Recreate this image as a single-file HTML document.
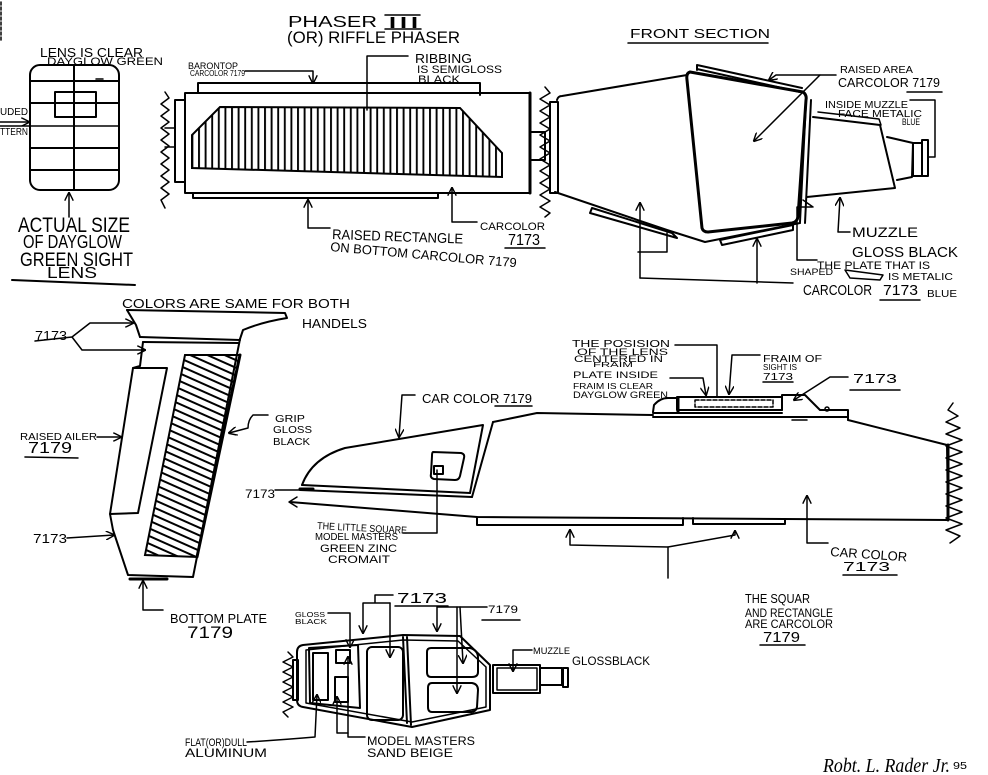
<!DOCTYPE html>
<html><head><meta charset="utf-8"><style>
html,body{margin:0;padding:0;background:#fff;}
svg{display:block;}
text{font-family:"Liberation Sans",sans-serif;fill:#000;}
.s{fill:none;stroke:#000;stroke-width:2;stroke-linejoin:round;stroke-linecap:round;}
.l{fill:none;stroke:#000;stroke-width:1.5;stroke-linejoin:round;stroke-linecap:round;}
.b{fill:none;stroke:#000;stroke-width:3;stroke-linejoin:round;stroke-linecap:round;}
</style></head><body>
<svg width="988" height="775" viewBox="0 0 988 775" xmlns="http://www.w3.org/2000/svg">
<defs>
<marker id="a" viewBox="0 0 10 10" refX="9" refY="5" markerWidth="9" markerHeight="9" markerUnits="userSpaceOnUse" orient="auto"><path d="M0,0 L10,5 L0,10" fill="none" stroke="#000" stroke-width="1.6"/></marker>
<pattern id="vh" width="6.6" height="10" patternUnits="userSpaceOnUse"><line x1="1" y1="0" x2="1" y2="10" stroke="#000" stroke-width="1.9"/></pattern>
<pattern id="dh" width="10" height="7" patternUnits="userSpaceOnUse" patternTransform="rotate(24)"><line x1="0" y1="2" x2="10" y2="2" stroke="#000" stroke-width="2"/></pattern>
</defs>
<rect width="988" height="775" fill="#fff"/>

<!-- corner mark -->
<path class="l" d="M1,2 V42" stroke-dasharray="3,2"/>

<!-- ===== LENS ===== -->
<text x="40" y="57" font-size="12.5" textLength="103" lengthAdjust="spacingAndGlyphs">LENS IS CLEAR</text>
<text x="47" y="65" font-size="11" textLength="116" lengthAdjust="spacingAndGlyphs">DAYGLOW GREEN</text>
<rect class="s" x="30" y="65" width="89" height="125" rx="10"/>
<path class="s" d="M74,65 V190 M30,81 H119 M30,103 H119 M30,148 H119 M30,170 H119"/>
<path class="l" d="M0,126 H119" stroke-width="1"/>
<path class="l" d="M0,122 H29" marker-end="url(#a)"/>
<rect class="s" x="55" y="92" width="41" height="25"/>
<path class="l" d="M96,79 H103"/>
<text x="0" y="115" font-size="10" textLength="28" lengthAdjust="spacingAndGlyphs">UDED</text>
<text x="0" y="135" font-size="10" textLength="28" lengthAdjust="spacingAndGlyphs">TTERN</text>
<path class="l" d="M69,217 V193" marker-end="url(#a)"/>
<text x="18" y="232" font-size="21" textLength="112" lengthAdjust="spacingAndGlyphs">ACTUAL SIZE</text>
<text x="23" y="248" font-size="18" textLength="99" lengthAdjust="spacingAndGlyphs">OF DAYGLOW</text>
<text x="20" y="266" font-size="19" textLength="113" lengthAdjust="spacingAndGlyphs">GREEN SIGHT</text>
<text x="47" y="278" font-size="16" textLength="50" lengthAdjust="spacingAndGlyphs">LENS</text>
<path class="s" d="M12,280 L135,285"/>

<!-- ===== PHASER TOP VIEW ===== -->
<text x="288" y="27" font-size="16" textLength="89" lengthAdjust="spacingAndGlyphs">PHASER</text>
<text x="387" y="28" font-size="16" textLength="33" lengthAdjust="spacingAndGlyphs">III</text>
<path class="l" d="M385,15 H420 M385,29 H421"/>
<text x="287" y="43" font-size="17" textLength="173" lengthAdjust="spacingAndGlyphs">(OR) RIFFLE PHASER</text>

<text x="188" y="69" font-size="9" textLength="50" lengthAdjust="spacingAndGlyphs">BARONTOP</text>
<text x="190" y="76" font-size="8" textLength="55" lengthAdjust="spacingAndGlyphs">CARCOLOR 7179</text>
<path class="l" d="M245,71 H313 V83" marker-end="url(#a)"/>
<text x="415" y="63" font-size="13" textLength="57" lengthAdjust="spacingAndGlyphs">RIBBING</text>
<text x="417" y="73" font-size="11" textLength="85" lengthAdjust="spacingAndGlyphs">IS SEMIGLOSS</text>
<text x="418" y="83" font-size="11" textLength="42" lengthAdjust="spacingAndGlyphs">BLACK</text>
<path class="l" d="M408,56 H367 V110"/>

<path class="s" d="M198,93 V83 H480 V95"/>
<rect class="s" x="185" y="93" width="345" height="100"/>
<path class="b" d="M530,93 V193"/>
<path class="s" d="M193,193 V198 H438 V193"/>
<polygon points="220,107 460,108 502,153 502,177 192,168 192,135" fill="url(#vh)" stroke="#000" stroke-width="2"/>
<rect class="s" x="175" y="100" width="10" height="82"/>
<path class="l" d="M165,128 H175 M165,147 H175"/>
<polyline class="l" points="165,92 169,98 161,104 169,110 161,116 169,122 161,128 169,134 161,140 169,146 161,152 169,158 161,164 169,170 161,176 169,182 161,188 169,194 161,200 165,208"/>
<rect class="s" x="530" y="132" width="15" height="28"/>
<polyline class="l" points="545,87 550,93 540,99 550,105 540,111 550,117 540,123 550,129 540,135 550,141 540,147 550,153 540,159 550,165 540,171 550,177 540,183 550,189 540,195 550,201 540,207 550,213 545,217"/>

<path class="l" d="M330,228 H308 V200" marker-end="url(#a)"/>
<text x="332" y="239" font-size="14" textLength="131" lengthAdjust="spacingAndGlyphs" transform="rotate(2 332 239)">RAISED RECTANGLE</text>
<text x="330" y="251" font-size="13" textLength="187" lengthAdjust="spacingAndGlyphs" transform="rotate(5 330 251)">ON BOTTOM CARCOLOR 7179</text>
<path class="l" d="M477,222 H452 V188" marker-end="url(#a)"/>
<text x="480" y="230" font-size="11" textLength="65" lengthAdjust="spacingAndGlyphs">CARCOLOR</text>
<text x="508" y="245" font-size="16" textLength="32" lengthAdjust="spacingAndGlyphs">7173</text>
<path class="l" d="M505,248 H545"/>

<!-- ===== FRONT SECTION ===== -->
<text x="630" y="38" font-size="13" textLength="140" lengthAdjust="spacingAndGlyphs">FRONT SECTION</text>
<path class="l" d="M628,43 H768"/>
<rect class="s" x="550" y="102" width="8" height="91"/>
<path class="s" d="M557,100 Q558,96 562,96 L687,75"/>
<path class="s" d="M555,192 L667,230 L705,242 L800,223"/>
<path class="b" d="M690,72 L803,92 Q807,95 806,100 L798,217 Q797,222 792,223 L708,232 Q703,232 702,228 L687,80 Q686,73 690,72 Z"/>
<path class="s" d="M811,100 L805,223 M806,102 L800,222"/>
<path class="s" d="M697,65 L802,88 M697,69 L800,92 M697,65 V70"/>
<path class="s" d="M813,117 L880,125 L895,188 L807,197"/>
<path class="l" d="M818,112 L879,119 L881,125"/>
<path class="s" d="M887,137 L913,143 L912,177 L897,180"/>
<rect class="s" x="913" y="143" width="9" height="33"/>
<rect class="s" x="922" y="140" width="6" height="36"/>
<polygon class="s" points="592,208 672,233 677,238 590,213"/>
<polygon class="s" points="720,240 793,225 793,230 722,245"/>
<path class="l" d="M820,75 L754,141" marker-end="url(#a)"/>
<path class="l" d="M836,75 H776 L769,80" marker-end="url(#a)"/>
<text x="840" y="73" font-size="10" textLength="73" lengthAdjust="spacingAndGlyphs">RAISED AREA</text>
<text x="838" y="87" font-size="13" textLength="102" lengthAdjust="spacingAndGlyphs">CARCOLOR 7179</text>
<path class="l" d="M907,92 H942"/>
<text x="825" y="108" font-size="10" textLength="83" lengthAdjust="spacingAndGlyphs">INSIDE MUZZLE</text>
<text x="838" y="117" font-size="10" textLength="84" lengthAdjust="spacingAndGlyphs">FACE METALIC</text>
<text x="902" y="125" font-size="9" textLength="18" lengthAdjust="spacingAndGlyphs">BLUE</text>
<path class="l" d="M910,100 H935 V157 H928"/>
<path class="l" d="M640,278 V203" marker-end="url(#a)"/>
<path class="l" d="M640,278 L793,283"/>
<path class="l" d="M757,283 V239" marker-end="url(#a)"/>
<path class="l" d="M638,252 H667 V233"/>
<path class="l" d="M850,232 H838 L840,198" marker-end="url(#a)"/>
<text x="852" y="237" font-size="14" textLength="66" lengthAdjust="spacingAndGlyphs">MUZZLE</text>
<text x="852" y="257" font-size="15" textLength="106" lengthAdjust="spacingAndGlyphs">GLOSS BLACK</text>
<path class="l" d="M803,200 L813,207 M812,207 H797 V260 H817"/>
<text x="817" y="269" font-size="11" textLength="113" lengthAdjust="spacingAndGlyphs">THE PLATE THAT IS</text>
<text x="790" y="275" font-size="9" textLength="43" lengthAdjust="spacingAndGlyphs">SHAPED</text>
<polygon class="l" points="845,270 883,275 880,280 850,278"/>
<text x="888" y="280" font-size="10" textLength="65" lengthAdjust="spacingAndGlyphs">IS METALIC</text>
<text x="927" y="297" font-size="10" textLength="30" lengthAdjust="spacingAndGlyphs">BLUE</text>
<text x="803" y="295" font-size="15" textLength="69" lengthAdjust="spacingAndGlyphs">CARCOLOR</text>
<text x="883" y="295" font-size="15" textLength="35" lengthAdjust="spacingAndGlyphs">7173</text>
<path class="l" d="M880,300 H920"/>

<!-- ===== HANDLE ===== -->
<text x="122" y="308" font-size="13" textLength="228" lengthAdjust="spacingAndGlyphs">COLORS ARE SAME FOR BOTH</text>
<text x="302" y="328" font-size="13" textLength="65" lengthAdjust="spacingAndGlyphs">HANDELS</text>
<path class="s" d="M127,310 L285,313 L287,318 Q262,322 243,330 L240,339"/>
<path class="s" d="M127,310 L136,325 L140,337"/>
<path class="s" d="M140,337 L240,340 M143,342 L238,343"/>
<path class="s" d="M143,342 L140,366 L133,368 L110,514 L113,530 L128,575 L193,577 L240,339"/>
<path class="s" d="M133,368 L167,368 L138,513 L110,514"/>
<path class="b" d="M130,579 H167"/>
<polygon points="185,355 240,355 197,557 145,555" fill="url(#dh)" stroke="#000" stroke-width="2"/>
<path class="b" d="M240,355 L197,557"/>
<text x="35" y="340" font-size="13" textLength="32" lengthAdjust="spacingAndGlyphs">7173</text>
<path class="l" d="M35,341 L72,337 L90,323 L133,323" marker-end="url(#a)"/>
<path class="l" d="M72,337 L82,350 L145,350" marker-end="url(#a)"/>
<text x="275" y="422" font-size="10" textLength="30" lengthAdjust="spacingAndGlyphs">GRIP</text>
<text x="273" y="433" font-size="10" textLength="39" lengthAdjust="spacingAndGlyphs">GLOSS</text>
<text x="273" y="445" font-size="10" textLength="37" lengthAdjust="spacingAndGlyphs">BLACK</text>
<path class="l" d="M268,415 L253,415 Q248,420 248,428 L229,433" marker-end="url(#a)"/>
<text x="20" y="440" font-size="10" textLength="77" lengthAdjust="spacingAndGlyphs">RAISED AILER</text>
<path class="l" d="M97,437 L121,437" marker-end="url(#a)"/>
<text x="28" y="453" font-size="16" textLength="44" lengthAdjust="spacingAndGlyphs">7179</text>
<path class="l" d="M25,457 L78,458"/>
<text x="33" y="543" font-size="13" textLength="34" lengthAdjust="spacingAndGlyphs">7173</text>
<path class="l" d="M67,538 L114,535" marker-end="url(#a)"/>
<path class="l" d="M163,610 H143 V581" marker-end="url(#a)"/>
<text x="170" y="623" font-size="13" textLength="97" lengthAdjust="spacingAndGlyphs">BOTTOM PLATE</text>
<text x="187" y="638" font-size="17" textLength="46" lengthAdjust="spacingAndGlyphs">7179</text>

<!-- ===== SIDE VIEW ===== -->
<text x="422" y="403" font-size="13" textLength="110" lengthAdjust="spacingAndGlyphs">CAR COLOR 7179</text>
<path class="l" d="M495,406 H532"/>
<path class="l" d="M415,395 H402 L399,437" marker-end="url(#a)"/>
<path class="s" d="M302,485 Q312,458 345,448 L483,425 L470,493"/>
<path class="s" d="M493,422 L472,497"/>
<path class="s" d="M493,422 L537,413 L653,415"/>
<path class="s" d="M653,417 L848,417 L848,420 L947,445 L948,520"/>
<path class="s" d="M302,485 L470,493 M300,490 L472,497"/>
<path class="b" d="M300,489 L313,489"/>
<path class="s" d="M290,502 L477,517 L948,520"/>
<path class="l" d="M297,497 L289,502 L297,507"/>
<path class="s" d="M433,452 L461,453 Q465,454 464,458 L460,476 Q459,480 455,480 L434,479 Q430,478 431,474 L432,456 Q432,452 433,452 Z"/>
<rect class="s" x="434" y="466" width="9" height="8"/>
<path class="l" d="M437,470 V533 H403"/>
<text x="317" y="529" font-size="10" textLength="90" lengthAdjust="spacingAndGlyphs" transform="rotate(3 317 529)">THE LITTLE SQUARE</text>
<text x="315" y="540" font-size="10" textLength="83" lengthAdjust="spacingAndGlyphs">MODEL MASTERS</text>
<text x="320" y="552" font-size="11" textLength="77" lengthAdjust="spacingAndGlyphs">GREEN ZINC</text>
<text x="328" y="563" font-size="11" textLength="62" lengthAdjust="spacingAndGlyphs">CROMAIT</text>
<text x="245" y="498" font-size="12" textLength="30" lengthAdjust="spacingAndGlyphs">7173</text>
<path class="l" d="M275,490 L313,490"/>
<path class="s" d="M477,517 V525 H683 V518"/>
<path class="s" d="M693,518 V524 H785 V519"/>
<path class="l" d="M668,578 V547 L570,545 V530" marker-end="url(#a)"/>
<path class="l" d="M668,547 L735,535 V531" marker-end="url(#a)"/>
<text x="745" y="603" font-size="13" textLength="65" lengthAdjust="spacingAndGlyphs">THE SQUAR</text>
<text x="745" y="617" font-size="12" textLength="88" lengthAdjust="spacingAndGlyphs">AND RECTANGLE</text>
<text x="745" y="628" font-size="12" textLength="88" lengthAdjust="spacingAndGlyphs">ARE CARCOLOR</text>
<text x="763" y="642" font-size="15" textLength="37" lengthAdjust="spacingAndGlyphs">7179</text>
<path class="l" d="M760,645 H805"/>
<path class="l" d="M828,543 H807 V496" marker-end="url(#a)"/>
<text x="830" y="556" font-size="13" textLength="77" lengthAdjust="spacingAndGlyphs" transform="rotate(4 830 556)">CAR COLOR</text>
<text x="843" y="571" font-size="13" textLength="47" lengthAdjust="spacingAndGlyphs">7173</text>
<path class="l" d="M843,575 H897"/>
<polyline class="l" points="953,403 948,410 958,416 946,422 960,428 946,434 962,440 946,446 962,452 946,458 962,464 946,470 962,476 946,482 962,488 946,494 962,500 946,506 962,512 946,518 962,524 946,530 960,536 950,543"/>
<path class="b" d="M948,445 V520"/>

<!-- sight -->
<path class="s" d="M653,412 L654,405 Q660,398 668,398 L677,398"/>
<rect class="s" x="677" y="397" width="105" height="13"/>
<path class="b" d="M678,398 V412"/>
<rect class="l" x="695" y="400" width="78" height="7" stroke-dasharray="4,2"/>
<path class="s" d="M782,410 V395 H805 L820,410 H848 V420"/>
<circle class="l" cx="827" cy="409" r="2"/>
<path class="s" d="M653,413 L782,413"/>
<path class="l" d="M792,420 H807"/>
<text x="572" y="347" font-size="10" textLength="98" lengthAdjust="spacingAndGlyphs">THE POSISION</text>
<text x="577" y="355" font-size="9" textLength="91" lengthAdjust="spacingAndGlyphs">OF THE LENS</text>
<text x="574" y="362" font-size="9" textLength="89" lengthAdjust="spacingAndGlyphs">CENTERED IN</text>
<text x="593" y="367" font-size="7" textLength="40" lengthAdjust="spacingAndGlyphs">FRAIM</text>
<text x="573" y="378" font-size="9" textLength="85" lengthAdjust="spacingAndGlyphs">PLATE INSIDE</text>
<text x="573" y="389" font-size="8" textLength="80" lengthAdjust="spacingAndGlyphs">FRAIM IS CLEAR</text>
<text x="573" y="398" font-size="9" textLength="95" lengthAdjust="spacingAndGlyphs">DAYGLOW GREEN</text>
<path class="l" d="M675,345 H717 V396"/>
<path class="l" d="M670,378 H703 L706,395" marker-end="url(#a)"/>
<path class="l" d="M760,355 H732 L729,394" marker-end="url(#a)"/>
<text x="763" y="362" font-size="10" textLength="59" lengthAdjust="spacingAndGlyphs">FRAIM OF</text>
<text x="763" y="370" font-size="8" textLength="34" lengthAdjust="spacingAndGlyphs">SIGHT IS</text>
<text x="763" y="380" font-size="10" textLength="30" lengthAdjust="spacingAndGlyphs">7173</text>
<path class="l" d="M763,382 H793"/>
<path class="l" d="M848,377 H830 L794,400" marker-end="url(#a)"/>
<text x="853" y="383" font-size="13" textLength="44" lengthAdjust="spacingAndGlyphs">7173</text>
<path class="l" d="M850,390 H900"/>

<!-- ===== BOTTOM FRONT VIEW ===== -->
<polyline class="l" points="288,652 293,657 283,662 293,667 283,672 293,677 283,682 293,687 283,692 293,697 283,702 293,707 283,712 288,717"/>
<rect class="s" x="293" y="660" width="5" height="40"/>
<path class="s" d="M303,645 L403,635 L460,636 L490,665 L490,710 L412,727 L303,707 Q297,706 297,700 L297,652 Q297,646 303,645 Z"/>
<path class="l" d="M306,650 L403,640 L458,641 L486,667 L486,707 L412,722 L306,703 Z"/>
<path class="s" d="M403,637 L407,723 M407,637 L411,725"/>
<path class="s" d="M309,648 L358,645 L360,708 L310,703 Z"/>
<rect class="s" x="313" y="653" width="15" height="47"/>
<rect class="s" x="336" y="650" width="14" height="13"/>
<rect class="s" x="335" y="677" width="13" height="25"/>
<rect class="s" x="367" y="647" width="36" height="73" rx="5"/>
<path class="s" d="M431,648 L470,648 Q478,650 478,658 L478,672 Q478,677 472,677 L431,677 Q427,677 427,672 L427,652 Q427,648 431,648 Z"/>
<path class="s" d="M432,683 L472,683 Q478,684 478,690 L477,707 Q476,712 470,712 L432,712 Q428,712 428,707 L428,688 Q428,683 432,683 Z"/>
<rect class="s" x="493" y="665" width="47" height="28"/>
<rect class="l" x="497" y="668" width="40" height="22"/>
<rect class="s" x="540" y="668" width="22" height="17"/>
<rect class="s" x="563" y="668" width="5" height="19"/>
<text x="397" y="603" font-size="15" textLength="50" lengthAdjust="spacingAndGlyphs">7173</text>
<path class="l" d="M395,606 H448"/>
<path class="l" d="M393,595 H375 V603 M363,603 H390 M363,603 V633" marker-end="url(#a)"/>
<path class="l" d="M390,603 V657" marker-end="url(#a)"/>
<text x="295" y="617" font-size="7" textLength="30" lengthAdjust="spacingAndGlyphs">GLOSS</text>
<text x="295" y="624" font-size="7" textLength="32" lengthAdjust="spacingAndGlyphs">BLACK</text>
<path class="l" d="M328,613 H350 V647" marker-end="url(#a)"/>
<text x="488" y="613" font-size="11" textLength="30" lengthAdjust="spacingAndGlyphs">7179</text>
<path class="l" d="M482,620 H520"/>
<path class="l" d="M487,607 H437 V631" marker-end="url(#a)"/>
<path class="l" d="M457,607 V693" marker-end="url(#a)"/>
<path class="l" d="M460,607 L463,663" marker-end="url(#a)"/>
<text x="533" y="654" font-size="9" textLength="37" lengthAdjust="spacingAndGlyphs">MUZZLE</text>
<text x="572" y="665" font-size="12" textLength="78" lengthAdjust="spacingAndGlyphs">GLOSSBLACK</text>
<path class="l" d="M532,650 H513 V671" marker-end="url(#a)"/>
<path class="l" d="M247,742 Q280,740 315,737 L317,695" marker-end="url(#a)"/>
<text x="185" y="746" font-size="11" textLength="62" lengthAdjust="spacingAndGlyphs">FLAT(OR)DULL</text>
<text x="185" y="757" font-size="12" textLength="82" lengthAdjust="spacingAndGlyphs">ALUMINUM</text>
<path class="l" d="M365,737 H348 V657" marker-end="url(#a)"/>
<path class="l" d="M348,733 H337 V697" marker-end="url(#a)"/>
<text x="367" y="745" font-size="12" textLength="108" lengthAdjust="spacingAndGlyphs">MODEL MASTERS</text>
<text x="367" y="757" font-size="12" textLength="86" lengthAdjust="spacingAndGlyphs">SAND BEIGE</text>

<!-- signature -->
<text x="823" y="772" font-size="20" textLength="127" lengthAdjust="spacingAndGlyphs" style="font-family:'Liberation Serif',serif;font-style:italic">Robt. L. Rader Jr.</text>
<text x="953" y="769" font-size="10" textLength="14" lengthAdjust="spacingAndGlyphs">95</text>
</svg>
</body></html>
